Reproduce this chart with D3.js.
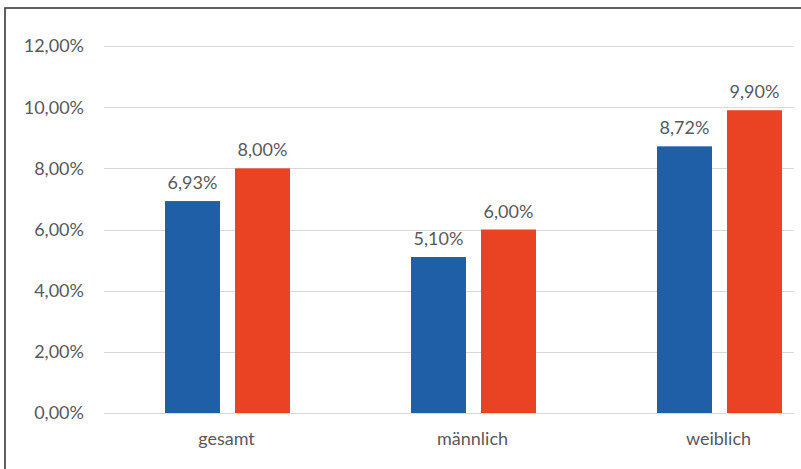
<!DOCTYPE html>
<html>
<head>
<meta charset="utf-8">
<script src="https://cdn.jsdelivr.net/npm/d3@7"></script>
<style>
  body { margin: 0; background: #fff; }
  svg text { font-family: Lato, "Open Sans", sans-serif; fill: #595959; }
</style>
</head>
<body>
<svg id="chart" width="801" height="469"></svg>
<script>
// categories and series
const categories = ["gesamt", "männlich", "weiblich"];
const seriesNames = ["A", "B"];
const seriesA = [0.0693, 0.0510, 0.0872];
const seriesB = [0.0800, 0.0600, 0.0990];
const yTicks = [0, 0.02, 0.04, 0.06, 0.08, 0.10, 0.12];
const colors = ["#1f5fa8", "#ea4323"];

const svg = d3.select("#chart");

// outer frame (runs past the right/bottom edge like the original)
svg.append("rect")
  .attr("x", 5).attr("y", 8)
  .attr("width", 820).attr("height", 480)
  .attr("fill", "none")
  .attr("stroke", "#3a3a3a")
  .attr("stroke-width", 1.6);

const y = d3.scaleLinear().domain([0, 0.12]).range([413, 46]);
const x0 = d3.scaleBand().domain(categories).range([104.5, 842.5]);
const x1 = d3.scaleBand().domain(seriesNames)
  .range([(x0.bandwidth() - 125) / 2, (x0.bandwidth() + 125) / 2])
  .paddingInner(0.2143);

const fmt = v => d3.format(".2f")(v * 100).replace(".", ",") + "%";

// gridlines
svg.append("g").selectAll("line")
  .data(yTicks)
  .join("line")
  .attr("x1", 104).attr("x2", 794)
  .attr("y1", d => Math.round(y(d)) + 0.5)
  .attr("y2", d => Math.round(y(d)) + 0.5)
  .attr("stroke", "#d9d9d9")
  .attr("stroke-width", 1);

// y labels
svg.append("g").selectAll("text")
  .data(yTicks)
  .join("text")
  .attr("x", 84)
  .attr("y", d => y(d))
  .attr("dy", "0.36em")
  .attr("text-anchor", "end")
  .attr("font-size", 18)
  .text(fmt);

// bars
const rows = categories.map((c, i) => ({ cat: c, vals: [seriesA[i], seriesB[i]] }));
const groups = svg.append("g").selectAll("g")
  .data(rows)
  .join("g")
  .attr("transform", d => `translate(${x0(d.cat)},0)`);

groups.selectAll("rect")
  .data(d => d.vals.map((v, j) => ({ key: seriesNames[j], v, j })))
  .join("rect")
  .attr("x", d => x1(d.key))
  .attr("width", x1.bandwidth())
  .attr("y", d => y(d.v))
  .attr("height", d => y(0) - y(d.v))
  .attr("fill", d => colors[d.j]);

groups.selectAll("text")
  .data(d => d.vals.map((v, j) => ({ key: seriesNames[j], v, j })))
  .join("text")
  .attr("x", d => x1(d.key) + x1.bandwidth() / 2)
  .attr("y", d => y(d.v) - 12)
  .attr("text-anchor", "middle")
  .attr("font-size", 18)
  .text(d => fmt(d.v));

// category labels
svg.append("g").selectAll("text")
  .data(categories)
  .join("text")
  .attr("x", d => x0(d) + x0.bandwidth() / 2 - 1)
  .attr("y", 445)
  .attr("text-anchor", "middle")
  .attr("font-size", 18)
  .text(d => d);
</script>
</body>
</html>
